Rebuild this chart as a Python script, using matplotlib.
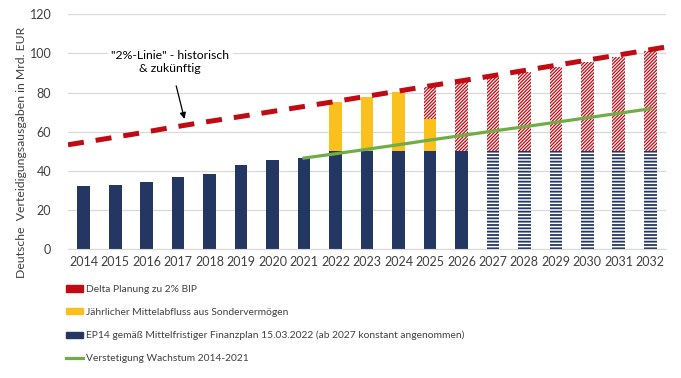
import matplotlib
matplotlib.use("Agg")
import matplotlib.pyplot as plt
from matplotlib.patches import Patch
from matplotlib.lines import Line2D
import numpy as np

years = [str(y) for y in range(2014, 2033)]
ep14 = [32.3, 32.8, 34.3, 36.8, 38.3, 42.9, 45.5, 46.5,
        50.1, 50.1, 50.1, 50.1, 50.1, 50.1, 50.1, 50.1, 50.1, 50.1, 50.1]
sonder = [0, 0, 0, 0, 0, 0, 0, 0, 25.1, 27.6, 30.2, 16.4, 0, 0, 0, 0, 0, 0, 0]
delta = [0, 0, 0, 0, 0, 0, 0, 0, 0, 0, 0, 16.2, 35.4, 38.0, 40.5, 42.9, 45.5, 48.1, 51.1]
linie_2pct = [53.3, 56.0, 58.8, 61.8, 64.6, 67.2, 69.9, 72.6, 75.3, 78.1,
              80.9, 83.7, 86.4, 89.2, 92.0, 94.8, 97.6, 100.4, 103.3]
wachstum_years = list(range(2021, 2033))
wachstum = [46.5, 48.7, 51.0, 53.3, 55.7, 58.0, 60.3, 62.5, 64.8, 67.1, 69.4, 71.7]

NAVY = "#243763"
YELLOW = "#F9C01E"
RED = "#C00A14"
GREEN = "#70AD47"
TXT = "#404040"

plt.rcParams['font.family'] = ['Lato', 'DejaVu Sans']

fig = plt.figure(figsize=(6.81, 3.78), dpi=100)
ax = fig.add_axes([68 / 681, 1 - 249 / 378, (666 - 68) / 681, (249 - 14.3) / 378])

x = np.arange(len(years))
w = 0.4
ep14 = np.array(ep14)
sonder = np.array(sonder)
delta = np.array(delta)
solid = x <= 12

ax.bar(x[solid], ep14[solid], w, color=NAVY, zorder=2)
with plt.rc_context({'hatch.linewidth': 1.3}):
    ax.bar(x[~solid], ep14[~solid], w, color="white", edgecolor=NAVY, linewidth=0,
           hatch="-----", zorder=2)
ax.bar(x, sonder, w, bottom=ep14, color=YELLOW, zorder=2)
with plt.rc_context({'hatch.linewidth': 0.9}):
    ax.bar(x[delta > 0], delta[delta > 0], w, bottom=(ep14 + sonder)[delta > 0],
           color="white", edgecolor=RED, linewidth=0, hatch="//////////", zorder=2)

xl = np.linspace(-0.5, len(years) - 0.5, len(linie_2pct))
ax.plot(xl, linie_2pct, color=RED, lw=3.6, dashes=(3.2, 2.4),
        solid_capstyle="butt", dash_capstyle="butt", zorder=4)
xg = [years.index(str(y)) for y in wachstum_years]
ax.plot(xg, wachstum, color=GREEN, lw=2.3, zorder=3)

ax.set_xlim(-0.5, len(years) - 0.5)
ax.set_ylim(0, 120)
ax.set_yticks(range(0, 121, 20))
ax.set_xticks(x)
ax.set_xticklabels(years)
ax.grid(axis="y", color="#d9d9d9", lw=0.9, zorder=0)
ax.set_axisbelow(True)
for s in ["top", "right", "left"]:
    ax.spines[s].set_visible(False)
ax.spines["bottom"].set_color("#d9d9d9")
ax.tick_params(length=0, labelsize=9, colors=TXT, pad=5)
ax.tick_params(axis="y", pad=12)

fig.text(22 / 681, 1 - 152 / 378, "Deutsche  Verteidigungsausgaben in Mrd. EUR",
         rotation=90, ha="center", va="center", fontsize=8.8, color=TXT)

ax.annotate('"2%-Linie" - historisch\n& zukünftig', xy=(3.2, 66.5), xytext=(2.75, 95.5),
            ha="center", va="center", fontsize=8.8, color="black",
            bbox=dict(boxstyle="square,pad=0.3", fc="white", ec="none"),
            arrowprops=dict(arrowstyle="-|>", color="black", lw=0.9,
                            shrinkA=6, shrinkB=0, mutation_scale=9))

handles = [
    Patch(color=RED, label="Delta Planung zu 2% BIP"),
    Patch(color=YELLOW, label="Jährlicher Mittelabfluss aus Sondervermögen"),
    Patch(color=NAVY, label="EP14 gemäß Mittelfristiger Finanzplan 15.03.2022 (ab 2027 konstant angenommen)"),
    Line2D([], [], color=GREEN, lw=2.3, label="Verstetigung Wachstum 2014-2021"),
]
leg = fig.legend(handles=handles, loc="upper left", bbox_to_anchor=(62 / 681, 1 - 281 / 378),
                 frameon=False, fontsize=7.4, handlelength=1.65, handleheight=0.55,
                 handletextpad=0.3, labelspacing=1.35, borderaxespad=0)
for t in leg.get_texts():
    t.set_color(TXT)

fig.savefig("out.png", dpi=100)
